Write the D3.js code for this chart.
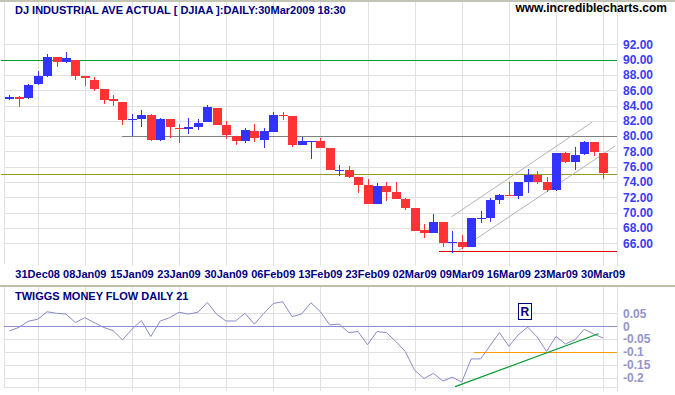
<!DOCTYPE html>
<html>
<head>
<meta charset="utf-8">
<script src="https://cdnjs.cloudflare.com/ajax/libs/d3/7.8.5/d3.min.js"></script>
<style>
  body { margin: 0; background: #fff; }
  svg { display: block; font-family: Arial, "Liberation Sans", sans-serif; }
</style>
</head>
<body>
<svg id="chart" width="675" height="395"></svg>
<script>
// trading days shown on the chart
var dates = ["26Dec08","29Dec08","30Dec08","31Dec08",
  "02Jan09","05Jan09","06Jan09","07Jan09","08Jan09","09Jan09","12Jan09","13Jan09","14Jan09","15Jan09",
  "16Jan09","20Jan09","21Jan09","22Jan09","23Jan09","26Jan09","27Jan09","28Jan09","29Jan09","30Jan09",
  "02Feb09","03Feb09","04Feb09","05Feb09","06Feb09","09Feb09","10Feb09","11Feb09","12Feb09","13Feb09",
  "17Feb09","18Feb09","19Feb09","20Feb09","23Feb09","24Feb09","25Feb09","26Feb09","27Feb09",
  "02Mar09","03Mar09","04Mar09","05Mar09","06Mar09","09Mar09","10Mar09","11Mar09","12Mar09","13Mar09",
  "16Mar09","17Mar09","18Mar09","19Mar09","20Mar09","23Mar09","24Mar09","25Mar09","26Mar09","27Mar09","30Mar09"];

var opens  = [84.8,85.15,84.95,86.75,87.8,90.3,89.65,90.0,87.8,87.4,86.1,84.8,84.5,82.1,82.25,82.8,79.5,82.3,81.1,80.9,
  81.25,81.8,83.7,81.5,80.05,79.4,80.65,79.55,80.6,82.8,82.65,78.9,79.3,79.4,78.5,75.55,75.6,74.6,73.65,71.2,
  73.5,72.7,71.75,70.6,67.75,67.3,68.8,66.05,66.2,65.5,69.25,69.3,71.65,72.3,72.2,74.05,74.9,74.05,72.9,77.8,
  76.6,77.65,79.2,77.8];
var highs  = [85.4,85.3,86.75,88.45,90.7,90.37,90.97,90.0,87.8,87.78,86.1,85.33,84.5,82.9,83.45,82.93,82.4,82.3,81.6,82.4,
  82.27,84.1,83.7,82.0,80.05,81.05,81.6,81.1,83.2,83.19,82.65,79.95,79.4,79.8,78.5,76.23,76.06,74.6,74.4,73.85,
  74.0,74.0,71.9,70.6,68.53,69.8,68.8,67.57,67.05,69.3,70.2,71.9,72.43,74.0,74.05,75.71,75.45,74.66,77.8,77.95,
  78.6,79.4,79.2,77.8];
var lows   = [84.7,83.75,84.9,86.7,87.7,89.0,89.53,87.3,86.6,85.85,84.25,83.88,81.52,80.0,81.13,79.4,79.4,79.7,79.16,80.34,
  80.8,81.8,81.4,79.69,78.8,79.16,79.3,78.5,80.6,82.05,78.55,78.85,77.0,78.5,75.6,74.83,74.57,72.6,71.2,71.2,
  71.5,71.8,70.37,67.6,66.7,67.3,65.5,64.7,65.3,65.5,68.66,68.8,71.12,72.17,71.8,72.6,73.78,72.69,72.85,76.5,
  75.58,77.6,77.45,74.4];
var closes = [85.15,84.9,86.7,87.8,90.4,89.65,90.15,87.8,87.55,86.1,84.75,84.55,82.05,82.2,82.8,79.5,82.3,81.25,80.9,81.2,
  81.75,83.85,81.5,80.1,79.4,80.85,79.7,80.65,82.8,82.7,78.9,79.4,79.4,78.5,75.6,75.6,74.7,73.65,71.2,73.5,
  72.75,71.8,70.6,67.6,67.35,68.8,66.05,66.2,65.5,69.3,69.35,71.65,72.3,72.2,74.05,74.9,74.05,72.95,77.8,76.6,
  77.55,79.3,77.9,75.2];

// Twiggs Money Flow (21)
var moneyFlow = [-0.018,-0.005,0.019,0.027,0.056,0.05,0.047,0.014,0.033,0.014,-0.005,-0.017,-0.053,-0.012,0.022,-0.04,
  0.02,0.033,0.054,0.047,0.054,0.092,0.046,0.02,0.02,0.05,0.008,0.05,0.088,0.095,0.037,0.047,0.091,0.056,0.005,0.008,
  -0.025,-0.021,-0.072,-0.021,-0.025,-0.059,-0.098,-0.171,-0.203,-0.183,-0.213,-0.198,-0.217,-0.127,-0.127,-0.076,
  -0.025,-0.078,-0.033,-0.004,-0.042,-0.098,-0.04,-0.069,-0.053,-0.012,-0.03,-0.046];

var tickLabels = ["31Dec08","08Jan09","15Jan09","23Jan09","30Jan09","06Feb09","13Feb09","23Feb09",
  "02Mar09","09Mar09","16Mar09","23Mar09","30Mar09"];
var priceTicks = [66,68,70,72,74,76,78,80,82,84,86,88,90,92];
var flowTicks = [0.05,0,-0.05,-0.1,-0.15,-0.2];

// drawn lines: [value, start day index] (null = whole width)
var priceLevels = [[90, null, "#009933"], [80, 11.9, "#808080"], [75, null, "#999922"], [64.95, 45.6, "#e00000"]];
var channelUpper = [[46.9, 69.45], [61.85, 81.84]];
var channelLower = [[47.7, 65.08], [64.3, 78.73]];
var flowLevel = [-0.1, 49.3];
var flowTrend = [[47.3, -0.2346], [62.5, -0.0296]];
var signalR = [54.7, 0.056];

var svg = d3.select("#chart");
var left = 4, right = 617;

var x = d3.scaleLinear().domain([0, dates.length - 1]).range([9.4, 603.1]);
var yPrice = d3.scaleLinear().domain([66, 92]).range([243.3, 44.3]);
var yFlow = d3.scaleLinear().domain([-0.2, 0.05]).range([377.7, 313.3]);

var gridColor = "#e0e0e0";
var tickIdx = tickLabels.map(function(d) { return dates.indexOf(d); });

// borders
svg.append("rect").attr("x", 0).attr("y", 0).attr("width", 675).attr("height", 2).attr("fill", "#c4c4b4");
svg.append("rect").attr("x", 0).attr("y", 285).attr("width", 675).attr("height", 2).attr("fill", "#c0c0a8");

// ---- price panel grid
var gGrid = svg.append("g").attr("shape-rendering", "crispEdges");
gGrid.selectAll(".hp").data(priceTicks).enter().append("line")
  .attr("x1", left).attr("x2", right)
  .attr("y1", function(d) { return Math.round(yPrice(d)) + 0.5; })
  .attr("y2", function(d) { return Math.round(yPrice(d)) + 0.5; })
  .attr("stroke", gridColor);
gGrid.selectAll(".vp").data(tickIdx.concat([null])).enter().append("line")
  .attr("x1", function(d) { return d === null ? right + 0.5 : Math.round(x(d)) + 0.5; })
  .attr("x2", function(d) { return d === null ? right + 0.5 : Math.round(x(d)) + 0.5; })
  .attr("y1", 2).attr("y2", 266)
  .attr("stroke", gridColor);
gGrid.append("line").attr("x1", left + 0.5).attr("x2", left + 0.5).attr("y1", 2).attr("y2", 264).attr("stroke", gridColor);

// ---- flow panel grid
gGrid.selectAll(".hf").data(flowTicks.filter(function(d) { return d !== 0; }).concat([-0.236])).enter().append("line")
  .attr("x1", left).attr("x2", right)
  .attr("y1", function(d) { return Math.round(yFlow(d)) + 0.5; })
  .attr("y2", function(d) { return Math.round(yFlow(d)) + 0.5; })
  .attr("stroke", gridColor);
gGrid.selectAll(".vf").data(tickIdx.concat([null])).enter().append("line")
  .attr("x1", function(d) { return d === null ? right + 0.5 : Math.round(x(d)) + 0.5; })
  .attr("x2", function(d) { return d === null ? right + 0.5 : Math.round(x(d)) + 0.5; })
  .attr("y1", 287).attr("y2", 391)
  .attr("stroke", gridColor);
gGrid.append("line").attr("x1", left + 0.5).attr("x2", left + 0.5).attr("y1", 287).attr("y2", 388).attr("stroke", gridColor);

// ---- price level lines
svg.selectAll(".level").data(priceLevels).enter().append("line")
  .attr("shape-rendering", "crispEdges")
  .attr("x1", function(d) { return d[1] === null ? 1 : x(d[1]); })
  .attr("x2", right)
  .attr("y1", function(d) { return Math.round(yPrice(d[0])) + 0.5; })
  .attr("y2", function(d) { return Math.round(yPrice(d[0])) + 0.5; })
  .attr("stroke", function(d) { return d[2]; })
  .attr("stroke-width", 1.3);

// trend channel
var priceLine = d3.line().x(function(d) { return x(d[0]); }).y(function(d) { return yPrice(d[1]); });
[channelUpper, channelLower].forEach(function(c) {
  svg.append("path").attr("d", priceLine(c)).attr("fill", "none")
    .attr("stroke", "#b4b4b4").attr("stroke-width", 1);
});

// ---- candles
var candles = dates.map(function(d, i) {
  return { i: i, o: opens[i], h: highs[i], l: lows[i], c: closes[i] };
});
var colUp = "#3333ff", colDown = "#ff3333";
var gc = svg.append("g").attr("shape-rendering", "crispEdges");
var cg = gc.selectAll(".candle").data(candles).enter().append("g");
cg.append("line")
  .attr("x1", function(d) { return Math.round(x(d.i)) + 0.5; })
  .attr("x2", function(d) { return Math.round(x(d.i)) + 0.5; })
  .attr("y1", function(d) { return yPrice(d.h); })
  .attr("y2", function(d) { return yPrice(d.l); })
  .attr("stroke", function(d) { return d.c >= d.o ? colUp : colDown; });
cg.append("rect")
  .attr("x", function(d) { return Math.round(x(d.i)) - 4; })
  .attr("width", 9)
  .attr("y", function(d) { return yPrice(Math.max(d.o, d.c)); })
  .attr("height", function(d) { return Math.max(1, Math.abs(yPrice(d.o) - yPrice(d.c))); })
  .attr("fill", function(d) { return d.c >= d.o ? colUp : colDown; });

// ---- axes text
var yAxis = d3.axisRight(yPrice).tickValues(priceTicks).tickSize(0).tickPadding(6)
  .tickFormat(d3.format(".2f"));
var ga = svg.append("g").attr("transform", "translate(" + right + ",0)").call(yAxis);
ga.select(".domain").remove();
ga.selectAll("text").attr("fill", "#3b3bff").attr("font-size", 12).attr("font-weight", "bold")
  .attr("font-family", "Arial, 'Liberation Sans', sans-serif");

svg.selectAll(".xlab").data(tickIdx).enter().append("text")
  .attr("x", function(d) { return x(d); })
  .attr("y", 278)
  .attr("text-anchor", "middle")
  .attr("fill", "#000080").attr("font-size", 11).attr("font-weight", "bold")
  .text(function(d) { return dates[d]; });

var fAxis = d3.axisRight(yFlow).tickValues(flowTicks).tickSize(0).tickPadding(6)
  .tickFormat(function(d) { return String(+d.toFixed(2)); });
var gf = svg.append("g").attr("transform", "translate(" + right + ",0)").call(fAxis);
gf.select(".domain").remove();
gf.selectAll("text").attr("fill", "#9494cc").attr("font-size", 12).attr("font-weight", "bold")
  .attr("font-family", "Arial, 'Liberation Sans', sans-serif");

// titles
svg.append("text").attr("x", 15).attr("y", 14)
  .attr("fill", "#000080").attr("font-size", 11).attr("font-weight", "bold")
  .text("DJ INDUSTRIAL AVE ACTUAL [ DJIAA ]:DAILY:30Mar2009 18:30");
svg.append("text").attr("x", 667).attr("y", 12).attr("text-anchor", "end")
  .attr("fill", "#000").attr("font-size", 12).attr("font-weight", "bold")
  .text("www.incrediblecharts.com");
svg.append("text").attr("x", 15).attr("y", 300)
  .attr("fill", "#000080").attr("font-size", 11).attr("font-weight", "bold")
  .text("TWIGGS MONEY FLOW DAILY 21");

// ---- money flow panel
svg.append("line").attr("shape-rendering", "crispEdges")
  .attr("x1", left).attr("x2", right)
  .attr("y1", Math.round(yFlow(0)) + 0.5).attr("y2", Math.round(yFlow(0)) + 0.5)
  .attr("stroke", "#8c8cd0");
svg.append("line").attr("shape-rendering", "crispEdges")
  .attr("x1", x(flowLevel[1])).attr("x2", right)
  .attr("y1", Math.round(yFlow(flowLevel[0])) + 0.5).attr("y2", Math.round(yFlow(flowLevel[0])) + 0.5)
  .attr("stroke", "#ff9900").attr("stroke-width", 1.5);

var flowLine = d3.line().x(function(d) { return x(d[0]); }).y(function(d) { return yFlow(d[1]); });
svg.append("path")
  .attr("d", flowLine(moneyFlow.map(function(v, i) { return [i, v]; })))
  .attr("fill", "none").attr("stroke", "#8a8ac8").attr("stroke-width", 1);
svg.append("path").attr("d", flowLine(flowTrend))
  .attr("fill", "none").attr("stroke", "#009933").attr("stroke-width", 1.2);

// R marker
var rg = svg.append("g").attr("transform", "translate(" + x(signalR[0]) + "," + yFlow(signalR[1]) + ")");
rg.append("rect").attr("x", -6.5).attr("y", -8).attr("width", 13).attr("height", 16)
  .attr("fill", "#fff").attr("stroke", "#000080").attr("stroke-width", 1).attr("shape-rendering", "crispEdges");
rg.append("text").attr("y", 4.5).attr("text-anchor", "middle")
  .attr("fill", "#000080").attr("font-size", 12).attr("font-weight", "bold").text("R");
</script>
</body>
</html>
